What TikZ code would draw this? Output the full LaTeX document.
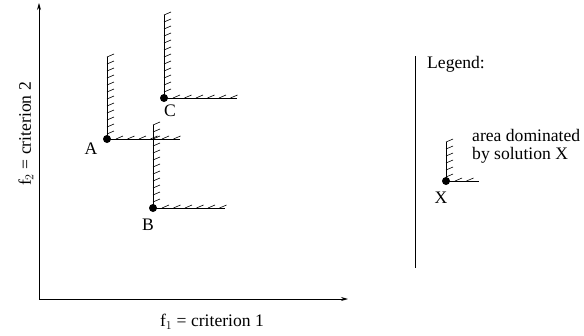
\documentclass[tikz,border=0pt]{standalone}
\usepackage{fontspec}
\setmainfont{Liberation Serif}
\usetikzlibrary{arrows.meta,calc}
\tikzset{
  dot/.style={circle,fill=black,inner sep=0pt,minimum size=8pt},
  bound/.style={line width=0.9pt},
  hatch/.style={line width=0.6pt},
  axisline/.style={line width=0.8pt,-{Stealth[length=7pt,width=4pt]}},
  lbl/.style={font=\fontsize{17.6}{18}\selectfont,inner sep=0pt}
}
\newcommand\domregion[5]{%
  \node[dot] (#1) at (#2,#3) {};
  \coordinate (#1t) at (#2,#4);
  \coordinate (#1r) at (#5,#3);
  \draw[bound] (#1t) -- (#1.center) -- (#1r);
  \pgfmathtruncatemacro\nv{(#3-#4-4)/7}
  \foreach \k in {0,...,\nv} \draw[hatch] ($(#1t)+(0,7*\k)$) -- ++(7,-3);
  \pgfmathtruncatemacro\nh{(#5-#2-14)/11.5}
  \foreach \k in {0,...,\nh} \draw[hatch] ($(#1.center)+(9+11.5*\k,0)$) -- ++(7,-3);
}
\begin{document}
\begin{tikzpicture}[x=1pt,y=-1pt]
\useasboundingbox (0,0) rectangle (584,335);
% axes
\coordinate (O) at (39,299);
\coordinate (Ytop) at (39,3);
\coordinate (Xend) at (348,299);
\draw[axisline] (O) -- (Ytop);
\draw[axisline] (O) -- (Xend);
\node[lbl] (xl) at (212,322) {f$_1$ = criterion 1};
\node[lbl,rotate=90] (yl) at (26,134) {f$_2$ = criterion 2};
% solutions
\domregion{A}{107}{139}{57}{180}
\domregion{C}{164}{98}{15}{237}
\domregion{B}{153}{208}{125}{225}
\node[lbl] (Al) at (91,149) {A};
\node[lbl] (Cl) at (170,111) {C};
\node[lbl] (Bl) at (148,225) {B};
% legend
\coordinate (Lt) at (415,56);
\coordinate (Lb) at (415,268);
\draw[line width=0.9pt] (Lt) -- (Lb);
\node[lbl,anchor=west] (leg) at (427,64) {Legend:};
\domregion{X}{446}{181}{142}{479}
\node[lbl] (Xl) at (441,198) {X};
\node[lbl,anchor=west,align=left] (txt) at (472,146) {area dominated\\by solution X};
\end{tikzpicture}
\end{document}
